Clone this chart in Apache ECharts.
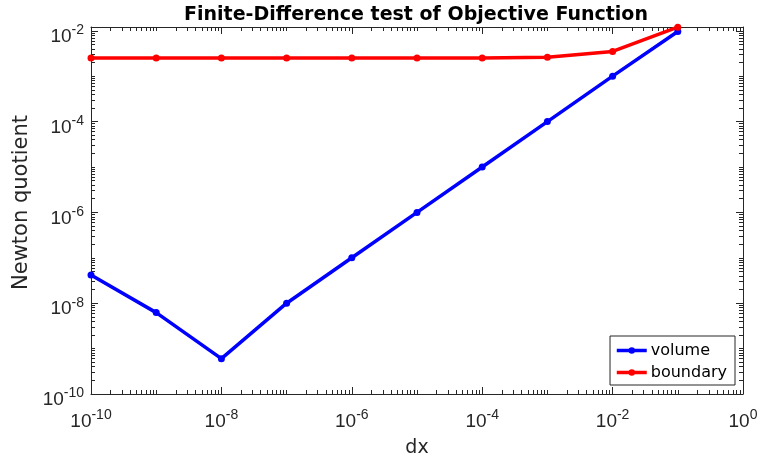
<!DOCTYPE html>
<html><head><meta charset="utf-8">
<script src="https://cdn.jsdelivr.net/npm/echarts@6/dist/echarts.min.js"></script>
<style>html,body{margin:0;padding:0;background:#fff}#c{width:759px;height:458px}</style>
</head><body><div id="c"></div>
<script>
const dx = [1e-10, 1e-9, 1e-8, 1e-7, 1e-6, 1e-5, 1e-4, 1e-3, 1e-2, 1e-1];
const volume = [4.2e-8, 6.2e-9, 6.0e-10, 1.0e-8, 1.0e-7, 1.0e-6, 1.0e-5, 1.0e-4, 1.0e-3, 9.6e-3];
const boundary = [2.5e-3, 2.5e-3, 2.5e-3, 2.5e-3, 2.5e-3, 2.5e-3, 2.5e-3, 2.6e-3, 3.5e-3, 1.2e-2];
const xDecades = [-10, -9, -8, -7, -6, -5, -4, -3, -2, -1, 0];
const yDecades = [-10, -9, -8, -7, -6, -5, -4, -3, -2];
const minorMult = [2, 3, 4, 5, 6, 7, 8, 9];

const FONT = 'Liberation Sans';
const TFONT = 'DejaVu Sans';
const AX = '#262626';
const X_MIN = 1e-10, X_MAX = 1, Y_MIN = 1e-10, Y_MAX = 0.0121;

function minorTicks(decades, lo, hi) {
  const out = [];
  decades.forEach(e => minorMult.forEach(m => {
    const v = m * Math.pow(10, e);
    if (v > lo && v < hi) out.push(v);
  }));
  return out;
}
function isMajor(v) { const e = Math.log10(v); return Math.abs(e - Math.round(e)) < 1e-6; }
function pow10Label(v) {
  if (!isMajor(v)) return '';
  return '{b|10}{s|' + Math.round(Math.log10(v)) + '}';
}
const rich = {
  b: {fontSize: 19, fontFamily: FONT, color: AX, verticalAlign: 'bottom', lineHeight: 31},
  s: {fontSize: 14, fontFamily: FONT, color: AX, verticalAlign: 'top', lineHeight: 31, padding: [8, 0, 0, 0]}
};
const chart = echarts.init(document.getElementById('c'));
function xAx(extra) {
  return Object.assign({type: 'log', logBase: 10, min: X_MIN, max: X_MAX, interval: 2,
    axisLine: {show: true, lineStyle: {color: AX, width: 1}},
    axisTick: {show: true, inside: true, length: 7, lineStyle: {color: AX}},
    axisLabel: {show: false}, splitLine: {show: false}}, extra);
}
function yAx(extra) {
  return Object.assign({type: 'log', logBase: 10, min: Y_MIN, max: Y_MAX, interval: 2,
    axisLine: {show: true, lineStyle: {color: AX, width: 1}},
    axisTick: {show: true, inside: true, length: 7, lineStyle: {color: AX}},
    axisLabel: {show: false}, splitLine: {show: false}}, extra);
}
const xMinor = minorTicks(xDecades, X_MIN, X_MAX);
const yMinor = minorTicks(yDecades, Y_MIN, Y_MAX);
const xMajorOdd = xDecades.map(e => Math.pow(10, e));
const yMajorOdd = yDecades.map(e => Math.pow(10, e));
const minorTickStyle = {show: true, inside: true, length: 4, lineStyle: {color: AX}};

chart.setOption({
  animation: false,
  backgroundColor: '#fff',
  title: {text: 'Finite-Difference test of Objective Function', left: 416, textAlign: 'center', top: 6, padding: 0,
    textStyle: {fontFamily: TFONT, fontSize: 19, fontWeight: 'bold', color: '#000'}},
  grid: {left: 91, right: 16, top: 27, bottom: 64, outerBoundsMode: 'none', containLabel: false},
  legend: {orient: 'vertical', right: 24, top: 336, backgroundColor: '#fff',
    borderColor: AX, borderWidth: 1, borderRadius: 0, padding: [5, 8, 3, 5], itemGap: 3,
    itemWidth: 30, itemHeight: 8,
    lineStyle: {width: 3.5},
    textStyle: {fontFamily: TFONT, fontSize: 16, color: '#000', lineHeight: 19, padding: [0, 0, 0, -1]},
    data: ['volume', 'boundary']},
  xAxis: [
    xAx({position: 'bottom', name: 'dx', nameLocation: 'middle', nameGap: 45,
      nameTextStyle: {fontFamily: TFONT, fontSize: 19, color: AX},
      axisLabel: {show: true, formatter: pow10Label, rich: rich, margin: 6}}),
    xAx({position: 'top'}),
    xAx({position: 'bottom', axisLine: {show: false}, axisTick: Object.assign({customValues: xMinor}, minorTickStyle)}),
    xAx({position: 'top', axisLine: {show: false}, axisTick: Object.assign({customValues: xMinor}, minorTickStyle)}),
    xAx({position: 'bottom', axisLine: {show: false}, axisTick: Object.assign({customValues: xMajorOdd}, minorTickStyle)}),
    xAx({position: 'top', axisLine: {show: false}, axisTick: Object.assign({customValues: xMajorOdd}, minorTickStyle)})
  ],
  yAxis: [
    yAx({position: 'left', name: 'Newton quotient', nameLocation: 'middle', nameGap: 58,
      nameTextStyle: {fontFamily: TFONT, fontSize: 21, color: AX, padding: [0, 0, 0, 16]},
      axisLabel: {show: true, formatter: pow10Label, rich: rich, margin: 7}}),
    yAx({position: 'right'}),
    yAx({position: 'left', axisLine: {show: false}, axisTick: Object.assign({customValues: yMinor}, minorTickStyle)}),
    yAx({position: 'right', axisLine: {show: false}, axisTick: Object.assign({customValues: yMinor}, minorTickStyle)}),
    yAx({position: 'left', axisLine: {show: false}, axisTick: Object.assign({customValues: yMajorOdd}, minorTickStyle)}),
    yAx({position: 'right', axisLine: {show: false}, axisTick: Object.assign({customValues: yMajorOdd}, minorTickStyle)})
  ],
  series: [
    {name: 'volume', type: 'line', data: dx.map((x, i) => [x, volume[i]]),
      color: '#0000ff', lineStyle: {width: 3.5, color: '#0000ff'}, symbol: 'circle', symbolSize: 7,
      itemStyle: {color: '#0000ff'}, clip: false},
    {name: 'boundary', type: 'line', data: dx.map((x, i) => [x, boundary[i]]),
      color: '#ff0000', lineStyle: {width: 3.5, color: '#ff0000'}, symbol: 'circle', symbolSize: 7,
      itemStyle: {color: '#ff0000'}, clip: false}
  ]
});
</script></body></html>
